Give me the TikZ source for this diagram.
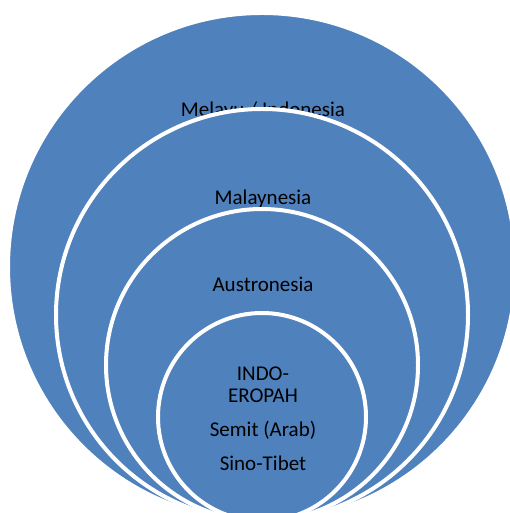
\documentclass[tikz,border=0pt]{standalone}
\usepackage{fontspec}
\setmainfont{Carlito}
\definecolor{ringblue}{HTML}{4F81BD}
\begin{document}
\begin{tikzpicture}[x=1pt,y=1pt,
  ring/.style={circle, fill=ringblue, draw=white, line width=4pt, inner sep=0pt, outer sep=0pt},
  lbl/.style={anchor=base, text=black, font=\fontsize{21}{22}\selectfont, inner sep=0pt}]
\useasboundingbox (0,0) rectangle (510,513);
\clip (0,0) rectangle (510,513);
\node[ring, minimum size=508pt] (c1) at (262,246) {};
\node[lbl] (t1) at (263,396) {Melayu / Indonesia};
\node[ring, minimum size=412pt] (c2) at (262,198) {};
\node[lbl] (t2) at (263,308) {Malaynesia};
\node[ring, minimum size=312pt] (c3) at (262,148) {};
\node[lbl] (t3) at (263,221) {Austronesia};
\node[ring, minimum size=208pt] (c4) at (262,96) {};
\node[lbl] (t4a) at (263,132) {INDO-};
\node[lbl] (t4b) at (263,110) {EROPAH};
\node[lbl] (t5) at (263,76) {Semit (Arab)};
\node[lbl] (t6) at (263,42) {Sino-Tibet};
\end{tikzpicture}
\end{document}
